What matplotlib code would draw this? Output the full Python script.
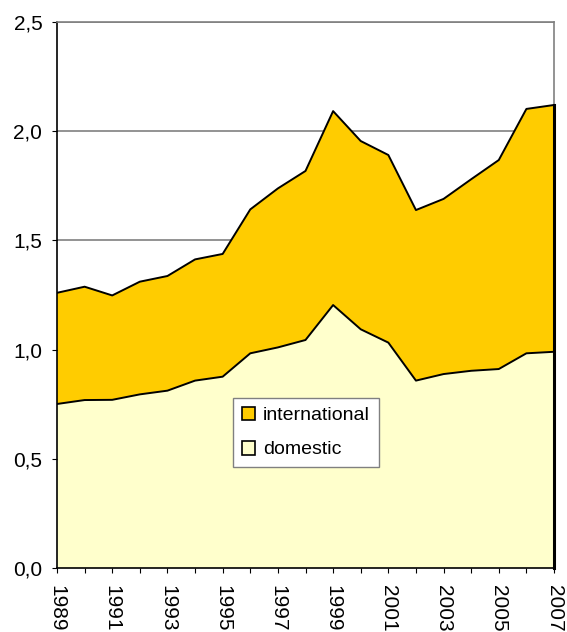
import matplotlib
matplotlib.use("Agg")
import matplotlib.pyplot as plt
from matplotlib.patches import Patch
from matplotlib.ticker import FuncFormatter, MultipleLocator

years = list(range(1989, 2008))
domestic = [0.751, 0.769, 0.770, 0.795, 0.812, 0.858, 0.876, 0.983, 1.010, 1.044,
            1.204, 1.093, 1.032, 0.858, 0.888, 0.903, 0.911, 0.983, 0.990]
international = [0.509, 0.519, 0.478, 0.516, 0.525, 0.555, 0.562, 0.659, 0.728, 0.774,
                 0.888, 0.862, 0.859, 0.781, 0.802, 0.877, 0.957, 1.119, 1.130]
labels = ["international", "domestic"]
year_labels = [str(y) if y % 2 == 1 else "" for y in years]

plt.rcParams['font.family'] = ['Liberation Sans', 'DejaVu Sans']

fig = plt.figure(figsize=(5.67, 6.32), dpi=100)
ax = fig.add_axes([57/567, 1 - 568/632, (554 - 57)/567, (568 - 22)/632])

c_int = "#FFCC00"
c_dom = "#FFFFCC"

for y in [0.5, 1.0, 1.5, 2.0, 2.5]:
    ax.axhline(y, color="#808080", lw=1.2, zorder=0)

total = [d + i for d, i in zip(domestic, international)]
ax.stackplot(years, domestic, international, colors=[c_dom, c_int], zorder=1)
ax.plot(years, domestic, color="black", lw=1.4, zorder=2)
ax.plot(years, total, color="black", lw=1.4, zorder=2)

ax.set_xlim(1989, 2007)
ax.set_ylim(0, 2.5)
ax.set_xticks(years)
ax.set_xticklabels(year_labels, rotation=-90, fontsize=15)
ax.yaxis.set_major_locator(MultipleLocator(0.5))
ax.yaxis.set_major_formatter(FuncFormatter(lambda v, p: f"{v:.1f}".replace(".", ",")))
ax.tick_params(axis='y', labelsize=15, length=3.6, direction='out', color='black', pad=7)
ax.tick_params(axis='x', length=3.6, direction='out', color='black', pad=8.5)

for s in ["top", "right"]:
    ax.spines[s].set_color("#808080")
    ax.spines[s].set_linewidth(1.2)
ax.spines["left"].set_color("black")
ax.spines["bottom"].set_color("black")
ax.spines["left"].set_linewidth(1.2)
ax.spines["bottom"].set_linewidth(1.2)
ax.plot([1, 1], [0, total[-1] / 2.5], transform=ax.transAxes, color="black", lw=2.2, zorder=3, clip_on=False)

handles = [Patch(facecolor=c_int, edgecolor="black", lw=1.2),
           Patch(facecolor=c_dom, edgecolor="black", lw=1.2)]
leg = ax.legend(handles, labels, loc="upper left",
                bbox_to_anchor=((233 - 57)/497, (568 - 398)/546),
                borderaxespad=0, fontsize=14, frameon=True, fancybox=False,
                handlelength=0.7, handleheight=0.7, handletextpad=0.4,
                labelspacing=0.85, borderpad=0.45)
leg.get_frame().set_edgecolor("#808080")
leg.get_frame().set_linewidth(1.0)
leg.get_frame().set_facecolor("white")
leg.get_frame().set_alpha(1)

fig.savefig("out.png", dpi=100)
